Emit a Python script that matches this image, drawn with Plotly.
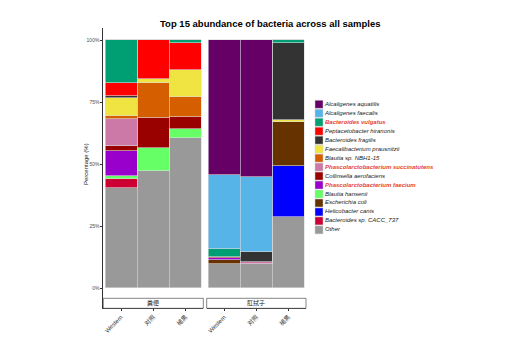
import plotly.graph_objects as go

W, H = 520, 348

samples = ["Western", "对照", "褪黑"]
groups = ["粪便", "肛拭子"]

species = [
    "Alcaligenes aquatilis", "Alcaligenes faecalis", "Bacteroides vulgatus",
    "Peptacetobacter hiranonis", "Bacteroides fragilis", "Faecalibacterium prausnitzii",
    "Blautia sp. NBH1-15", "Phascolarctobacterium succinatutens", "Collinsella aerofaciens",
    "Phascolarctobacterium faecium", "Blautia hansenii", "Escherichia coli",
    "Helicobacter canis", "Bacteroides sp. CACC_737", "Other",
]
highlight = ["Bacteroides vulgatus", "Phascolarctobacterium succinatutens",
             "Phascolarctobacterium faecium"]
colors = [
    "#660066", "#56B4E9", "#009E73", "#FF0000", "#333333", "#F0E442",
    "#D55E00", "#CC79A7", "#990000", "#9900CC", "#66FF66", "#663300",
    "#0000FF", "#CC0033", "#999999",
]

# values per species: [Western, 对照, 褪黑]
fecal = {
    "Alcaligenes aquatilis": [0, 0, 0],
    "Alcaligenes faecalis": [0, 0, 0],
    "Bacteroides vulgatus": [17.5, 0, 1.3],
    "Peptacetobacter hiranonis": [4.9, 15.6, 10.7],
    "Bacteroides fragilis": [0.8, 0, 0],
    "Faecalibacterium prausnitzii": [7.3, 1.6, 11.1],
    "Blautia sp. NBH1-15": [1.2, 14.4, 7.8],
    "Phascolarctobacterium succinatutens": [11.0, 0, 0],
    "Collinsella aerofaciens": [2.0, 12.0, 5.0],
    "Phascolarctobacterium faecium": [10.0, 0, 0],
    "Blautia hansenii": [1.3, 9.0, 3.6],
    "Escherichia coli": [0, 0, 0],
    "Helicobacter canis": [0, 0, 0],
    "Bacteroides sp. CACC_737": [3.5, 0, 0],
    "Other": [40.5, 47.4, 60.5],
}
anal = {
    "Alcaligenes aquatilis": [54.4, 55.0, 0],
    "Alcaligenes faecalis": [29.9, 30.2, 0],
    "Bacteroides vulgatus": [3.0, 0, 1.3],
    "Peptacetobacter hiranonis": [0, 0, 0],
    "Bacteroides fragilis": [0, 4.4, 31.0],
    "Faecalibacterium prausnitzii": [0, 0, 0.6],
    "Blautia sp. NBH1-15": [0, 0, 0],
    "Phascolarctobacterium succinatutens": [0, 0.8, 0],
    "Collinsella aerofaciens": [0.5, 0, 0],
    "Phascolarctobacterium faecium": [0.8, 0, 0],
    "Blautia hansenii": [0, 0, 0],
    "Escherichia coli": [1.5, 0, 17.7],
    "Helicobacter canis": [0, 0, 20.8],
    "Bacteroides sp. CACC_737": [0, 0, 0],
    "Other": [9.9, 9.6, 28.6],
}
yticks = [0, 25, 50, 75, 100]

FONT = "Liberation Sans, Arial, Noto Sans CJK SC, sans-serif"

def px(x):
    return x / W

def py(y):
    return (H - y) / H

fig = go.Figure()
# stack bottom-up: Other first
for name, col in reversed(list(zip(species, colors))):
    for data, xa in ((fecal, "x"), (anal, "x2")):
        fig.add_trace(go.Bar(
            x=samples, y=data[name], xaxis=xa, yaxis="y",
            marker=dict(color=col, line=dict(color="#dcdcdc", width=0.6)),
            width=1.0, showlegend=False, name=name,
        ))

# axis geometry (pixels)
p1 = (103.3, 203.3)
p2 = (206.7, 306.0)
top_px, bot_px = 28.0, 308.3
zero_px, hundred_px = 288.3, 40.0
scale = (zero_px - hundred_px) / 100.0
ylo = (zero_px - bot_px) / scale
yhi = (zero_px - top_px) / scale

ytickfont = dict(family=FONT, size=5, color="#4d4d4d")
xtickfont = dict(family=FONT, size=6, color="#333333")
common_x = dict(type="category", range=[-0.55, 2.55], showgrid=False, zeroline=False,
                showline=True, linecolor="#333333", linewidth=0.8,
                ticks="outside", ticklen=2, tickcolor="#333333", tickwidth=0.6,
                tickangle=-45, tickfont=xtickfont, anchor="y",
                categoryorder="array", categoryarray=samples)
fig.update_layout(
    width=W, height=H, margin=dict(l=0, r=0, t=0, b=0),
    paper_bgcolor="white", plot_bgcolor="rgba(0,0,0,0)",
    barmode="stack", bargap=0, showlegend=False,
    font=dict(family=FONT),
    xaxis=dict(domain=[px(p1[0]), px(p1[1])], **common_x),
    xaxis2=dict(domain=[px(p2[0]), px(p2[1])], **common_x),
    yaxis=dict(domain=[py(bot_px), py(top_px)], range=[ylo, yhi],
               tickvals=yticks, ticktext=[f"{v}%" for v in yticks],
               showgrid=False, zeroline=False, showline=True,
               linecolor="#333333", linewidth=0.8, ticks="outside", ticklen=2,
               tickcolor="#333333", tickwidth=0.6, tickfont=ytickfont),
    # full-figure pixel axes used only for the legend text
    xaxis3=dict(domain=[0, 1], range=[0, W], visible=False, anchor="y3", fixedrange=True),
    yaxis3=dict(domain=[0, 1], range=[H, 0], visible=False, anchor="x3", fixedrange=True),
)

shapes = []
annotations = []
# strips
strip_top, strip_bot = 298.3, 308.3
for (a, b), g in zip((p1, p2), groups):
    shapes.append(dict(type="rect", xref="paper", yref="paper",
                       x0=px(a), x1=px(b), y0=py(strip_bot), y1=py(strip_top),
                       line=dict(color="#333333", width=0.6), fillcolor="white"))
    annotations.append(dict(text=g, xref="paper", yref="paper",
                            x=px((a + b) / 2), y=py((strip_top + strip_bot) / 2),
                            showarrow=False, font=dict(family=FONT, size=6, color="#1a1a1a"),
                            xanchor="center", yanchor="middle"))

# title
annotations.append(dict(text="Top 15 abundance of bacteria across all samples",
                        xref="paper", yref="paper", x=px(270), y=py(23.5),
                        showarrow=False,
                        font=dict(family=FONT, size=9.5, color="black", weight="bold"),
                        xanchor="center", yanchor="middle"))
# y title
annotations.append(dict(text="Percentage (%)", xref="paper", yref="paper",
                        x=px(86), y=py(164), textangle=-90, showarrow=False,
                        font=dict(family=FONT, size=6, color="#1a1a1a"),
                        xanchor="center", yanchor="middle"))

# legend (manual)
leg_x0, leg_y0, step, sq = 315.0, 104.3, 8.97, 8.0
norm_x, norm_y, norm_t = [], [], []
hi_x, hi_y, hi_t = [], [], []
for i, (name, col) in enumerate(zip(species, colors)):
    cy = leg_y0 + i * step
    shapes.append(dict(type="rect", xref="paper", yref="paper",
                       x0=px(leg_x0), x1=px(leg_x0 + sq),
                       y0=py(cy + sq / 2), y1=py(cy - sq / 2),
                       line=dict(color="#d0d0d0", width=0.5), fillcolor=col))
    if name in highlight:
        hi_x.append(leg_x0 + sq + 2.0); hi_y.append(cy); hi_t.append(f"<b><i>{name}</i></b>")
    else:
        norm_x.append(leg_x0 + sq + 2.0); norm_y.append(cy); norm_t.append(f"<i>{name}</i>")

fig.add_trace(go.Scatter(x=norm_x, y=norm_y, text=norm_t, mode="text",
                         textposition="middle right", xaxis="x3", yaxis="y3",
                         textfont=dict(family=FONT, size=6, color="#1a1a1a"),
                         showlegend=False, hoverinfo="skip", cliponaxis=False))
fig.add_trace(go.Scatter(x=hi_x, y=hi_y, text=hi_t, mode="text",
                         textposition="middle right", xaxis="x3", yaxis="y3",
                         textfont=dict(family=FONT, size=6, color="#e8432e"),
                         showlegend=False, hoverinfo="skip", cliponaxis=False))

fig.update_layout(shapes=shapes, annotations=annotations)
fig.write_html("out.html")
